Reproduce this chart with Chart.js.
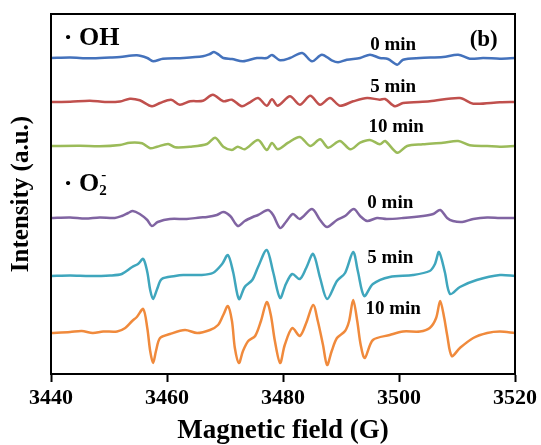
<!DOCTYPE html>
<html>
<head>
<meta charset="utf-8">
<script src="https://cdn.jsdelivr.net/npm/chart.js@4"></script>
<style>
  html, body { margin: 0; padding: 0; background: #fff; }
</style>
</head>
<body>
<canvas id="chart1" width="541" height="445"></canvas>
<script>
// field positions (G) and intensity (a.u., relative to each baseline)
const oh0Field = [3440.0, 3443.3, 3446.7, 3450.2, 3451.9, 3454.8, 3456.6, 3457.6, 3459.3, 3462.8, 3466.2, 3467.4, 3468.1, 3469.0, 3469.7, 3471.2, 3473.1, 3475.5, 3477.2, 3478.1, 3479.5, 3481.2, 3483.3, 3485.0, 3486.7, 3488.4, 3489.5, 3491.0, 3493.3, 3495.0, 3496.7, 3498.1, 3499.7, 3500.7, 3503.6, 3507.6, 3510.2, 3512.2, 3514.5, 3517.4, 3520.0];
const oh0Int = [0, 0.5, -0.3, 0.5, 1, 2.7, 0, -3.3, -0.7, 0, 1.7, 4, 6, 3, 0, -1, -3.3, 0, 0, 3, -2.3, 0, 5, -3.3, 3.3, -2.3, -4.3, -1.7, 0, 3.3, 0, -1, -6.7, -1.7, 0, 1, 3.3, -0.7, 0, -0.7, 0];

const oh5Field = [3440.0, 3443.3, 3446.7, 3449.3, 3451.9, 3453.6, 3455.3, 3457.4, 3458.8, 3460.7, 3462.2, 3464.0, 3466.2, 3467.9, 3469.7, 3471.2, 3472.9, 3474.3, 3475.7, 3477.2, 3478.1, 3479.1, 3481.2, 3482.9, 3484.7, 3486.4, 3488.1, 3489.8, 3492.1, 3494.5, 3496.7, 3497.6, 3499.3, 3500.7, 3505.3, 3510.5, 3512.8, 3517.4, 3520.0];
const oh5Int = [0, 0.3, 1.3, 0, 0.5, 3.3, 1.7, -4.3, -1, 2.3, -2.7, 0.7, 1.3, 7.3, 0.7, 2.3, -4.3, -0.3, 4, -3.7, 2.7, -3.7, 5.7, -2.7, 6.3, -2.7, 4, -3.7, 0.7, 4, 2.3, 3, -4.3, -1, 0.7, 4, -1.7, -0.3, 0];

const oh10Field = [3440.0, 3445.0, 3448.4, 3451.9, 3453.6, 3455.7, 3457.1, 3458.3, 3460.2, 3461.4, 3464.0, 3466.9, 3468.3, 3469.7, 3471.2, 3472.2, 3473.4, 3475.7, 3477.2, 3478.1, 3479.1, 3480.9, 3482.9, 3484.7, 3486.4, 3487.8, 3489.8, 3491.6, 3493.3, 3495.0, 3496.7, 3497.6, 3499.7, 3501.4, 3504.1, 3507.6, 3510.2, 3512.2, 3515.2, 3517.4, 3520.0];
const oh10Int = [0, 0.3, -0.3, 1, 3.3, 2.7, -2.3, -0.7, 2, -1.3, -0.7, 2, 8.3, -0.7, -4, -0.7, -3.3, 6, -4, 3, -3.3, 3.3, 9, 0, 6.7, -1.7, 5, -3.3, 3.3, 6, 1.7, 5, -6.7, 0, 1.7, 3.3, 5, 0.7, 0, -0.7, 0];

const o2m0Field = [3440.0, 3443.3, 3445.9, 3448.4, 3451.0, 3452.2, 3453.3, 3454.1, 3455.3, 3456.6, 3457.4, 3458.4, 3460.5, 3463.4, 3465.7, 3466.9, 3468.6, 3469.7, 3470.9, 3472.2, 3473.4, 3474.8, 3475.7, 3477.4, 3478.3, 3479.5, 3480.5, 3481.7, 3482.9, 3485.0, 3486.4, 3487.6, 3489.3, 3490.7, 3492.2, 3493.3, 3494.5, 3496.2, 3497.9, 3500.7, 3504.1, 3505.9, 3507.1, 3508.3, 3509.3, 3510.9, 3512.8, 3515.2, 3517.4, 3520.0];
const o2m0Int = [0, 0.5, -0.5, 0.5, 0, 2, 5, 7, 4, -2, -8, -4, -1, -1, 0.5, 1, 3, 6, 2, -8, -3, 1, 3, 8, 3, -10, -4, 4, -1, 9, -2, -9, -2, 2, 9, 2, -3, 0, -1, 0, 2, 4, 8, 0, -3, -4, -1, 0.5, 0, 0];

const o2m5Field = [3440.0, 3443.3, 3446.7, 3450.2, 3452.2, 3454.0, 3455.0, 3455.9, 3456.6, 3457.1, 3457.6, 3458.3, 3459.1, 3461.4, 3462.8, 3465.7, 3467.9, 3469.5, 3470.5, 3471.4, 3472.4, 3473.4, 3474.7, 3475.7, 3477.2, 3478.3, 3479.5, 3480.5, 3481.6, 3482.9, 3484.0, 3485.2, 3486.4, 3487.6, 3489.3, 3490.7, 3492.1, 3492.9, 3494.0, 3495.5, 3498.4, 3502.4, 3505.3, 3506.2, 3506.9, 3507.9, 3508.8, 3510.5, 3513.4, 3517.4, 3520.0];
const o2m5Int = [0, 0.5, 0, 0.5, 2, 9, 12, 17, 4, -14, -23, -13, -3, 0, 1, 1, 3, 12, 21, 4, -23, -11, -4, 9, 26, 4, -22, -8, 2, -3, 8, 22, -2, -23, -5, 3, 24, 5, -20, -8, -1, 1, 5, 12, 24, 4, -18, -11, -4, 1, 0];

const o2m10Field = [3440.0, 3443.3, 3445.3, 3447.2, 3449.0, 3451.4, 3452.8, 3454.0, 3454.8, 3455.9, 3456.6, 3457.1, 3457.6, 3458.1, 3458.8, 3460.5, 3463.1, 3465.2, 3467.4, 3468.8, 3469.7, 3470.5, 3471.2, 3471.7, 3472.4, 3473.1, 3474.0, 3475.2, 3476.2, 3477.2, 3477.9, 3478.6, 3479.5, 3480.3, 3481.6, 3482.9, 3484.0, 3485.2, 3486.0, 3486.9, 3487.6, 3488.4, 3489.3, 3490.7, 3491.4, 3492.1, 3492.8, 3493.4, 3494.1, 3495.5, 3498.4, 3500.7, 3503.6, 3505.3, 3506.4, 3507.1, 3507.8, 3508.3, 3509.1, 3510.5, 3512.8, 3515.2, 3517.4, 3520.0];
const o2m10Int = [0, 1, 2, 0, 1.5, 1.5, 5, 12, 16, 24, 5, -18, -30, -18, -5, -1, 3, 0, 3, 8, 18, 27, 12, -15, -30, -18, -8, -3, 12, 31, 18, -8, -30, -12, 5, -3, 10, 28, 12, -12, -32, -18, -5, 2, 12, 33, 12, -12, -25, -7, -2, 1.5, 1.5, 5, 15, 32, 15, -2, -23, -15, -5, 0, 1.5, 0];

const traceNames = ['OH 0 min', 'OH 5 min', 'OH 10 min', 'O2- 0 min', 'O2- 5 min', 'O2- 10 min'];
const traceOffsets = [316, 272, 228, 156, 98, 41];
const xTicks = [3440, 3460, 3480, 3500, 3520];

const fields = [oh0Field, oh5Field, oh10Field, o2m0Field, o2m5Field, o2m10Field];
const intensities = [oh0Int, oh5Int, oh10Int, o2m0Int, o2m5Int, o2m10Int];
const colors = ['#4472BC', '#C0504D', '#9BBB59', '#8064A2', '#3FA6BD', '#F08A3C'];

const serif = "'Liberation Serif', 'Times New Roman', serif";

// text placed on the plot, in axis units
const notes = [
    { text: '0 min', x: 3499, y: 329, size: 19 },
    { text: '5 min', x: 3499, y: 287, size: 19 },
    { text: '10 min', x: 3499.5, y: 247, size: 19 },
    { text: '0 min', x: 3498.5, y: 171, size: 19 },
    { text: '5 min', x: 3498.5, y: 116, size: 19 },
    { text: '10 min', x: 3499, y: 65, size: 19 },
    { text: '(b)', x: 3514.6, y: 334, size: 23 }
];

const boxAndText = {
    id: 'boxAndText',
    afterDraw(chart) {
        const { ctx, chartArea: a, scales } = chart;
        ctx.save();
        ctx.strokeStyle = '#000';
        ctx.lineWidth = 2;
        ctx.strokeRect(a.left, a.top, a.right - a.left, a.bottom - a.top);

        ctx.fillStyle = '#000';
        ctx.textBaseline = 'middle';
        ctx.textAlign = 'center';
        notes.forEach(n => {
            ctx.font = 'bold ' + n.size + 'px ' + serif;
            ctx.fillText(n.text, scales.x.getPixelForValue(n.x), scales.y.getPixelForValue(n.y));
        });

        // species labels
        ctx.textAlign = 'left';
        let px = scales.x.getPixelForValue(3442.2);
        let py = scales.y.getPixelForValue(336);
        ctx.font = 'bold 26px ' + serif;
        ctx.fillText('\u00B7 OH', px, py);

        py = scales.y.getPixelForValue(190);
        ctx.fillText('\u00B7 O', px, py);
        const w = ctx.measureText('\u00B7 O').width;
        ctx.font = 'bold 15px ' + serif;
        ctx.fillText('2', px + w, py + 7);
        ctx.fillText('-', px + w + 2, py - 9);
        ctx.restore();
    }
};

const datasets = traceNames.map((name, i) => ({
    label: name,
    data: fields[i].map((f, j) => ({ x: f, y: intensities[i][j] + traceOffsets[i] })),
    borderColor: colors[i],
    borderWidth: 2.5,
    pointRadius: 0,
    tension: 0.3,
    fill: false
}));

new Chart(document.getElementById('chart1'), {
    type: 'line',
    data: { datasets },
    plugins: [boxAndText],
    options: {
        responsive: false,
        animation: false,
        layout: { padding: { top: 14, right: 26, left: 0, bottom: 0 } },
        plugins: { legend: { display: false }, tooltip: { enabled: false } },
        scales: {
            x: {
                type: 'linear',
                min: 3440,
                max: 3520,
                afterBuildTicks: scale => { scale.ticks = xTicks.map(v => ({ value: v })); },
                afterFit: scale => { scale.height = 71; },
                grid: { drawOnChartArea: false, drawTicks: true, tickLength: 8, tickWidth: 2, tickColor: '#000' },
                border: { color: '#000', width: 2 },
                ticks: {
                    color: '#000',
                    padding: 3,
                    font: { family: serif, size: 22, weight: 'bold' },
                    callback: v => String(v)
                },
                title: {
                    display: true,
                    text: 'Magnetic field (G)',
                    color: '#000',
                    padding: 0,
                    font: { family: serif, size: 27, weight: 'bold', lineHeight: 1 }
                }
            },
            y: {
                min: 0,
                max: 360,
                afterFit: scale => { scale.width = 51; },
                grid: { display: false },
                border: { color: '#000', width: 2 },
                ticks: { display: false },
                title: {
                    display: true,
                    text: 'Intensity (a.u.)',
                    color: '#000',
                    padding: { top: 7, bottom: 0 },
                    font: { family: serif, size: 25, weight: 'bold', lineHeight: 1.2 }
                }
            }
        }
    }
});
</script>
</body>
</html>
